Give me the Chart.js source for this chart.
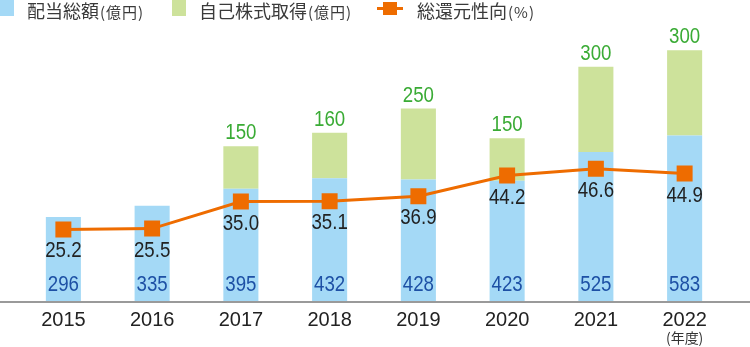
<!DOCTYPE html>
<html>
<head>
<meta charset="utf-8">
<script src="https://cdn.jsdelivr.net/npm/chart.js@4.4.0/dist/chart.umd.min.js"></script>
<style>
  body { margin: 0; background: #fff; }
  .wrap { position: relative; width: 750px; height: 347px; }
  #chart { position: absolute; left: 0; top: 0; }
  .legend { position: absolute; left: 0; top: 0; height: 18px; font-family: "Noto Sans CJK JP", sans-serif; color: #3a3a3a; }
  .item { position: absolute; top: 1px; white-space: nowrap; font-size: 18px; line-height: 18px; }
  .item small { font-size: 15px; letter-spacing: 1px; margin-left: 1px; }
  .sw { display: inline-block; width: 14px; height: 16px; vertical-align: top; margin-right: 13px; margin-top: -1px; }
  .ln { display: inline-block; position: relative; width: 26px; height: 16px; vertical-align: top; margin-right: 14px; margin-top: -1px; }
  .ln:before { content: ""; position: absolute; left: 0; right: 0; top: 7px; height: 3px; background: #ee6c00; }
  .ln:after { content: ""; position: absolute; left: 6px; top: 2px; width: 14px; height: 13px; background: #ee6c00; }
</style>
</head>
<body>
<div class="wrap">
  <canvas id="chart" width="750" height="347"></canvas>
  <div class="legend">
    <div class="item" style="left:0"><span class="sw" style="background:#a4d9f6"></span>配当総額<small>(億円)</small></div>
    <div class="item" style="left:172px"><span class="sw" style="background:#cde29b"></span>自己株式取得<small>(億円)</small></div>
    <div class="item" style="left:377px"><span class="ln"></span>総還元性向<small>(%)</small></div>
  </div>
</div>
<script>
const years = ['2015', '2016', '2017', '2018', '2019', '2020', '2021', '2022'];
const dividends = [296, 335, 395, 432, 428, 423, 525, 583];
const buybacks = [null, null, 150, 160, 250, 150, 300, 300];
const payoutRatio = [25.2, 25.5, 35.0, 35.1, 36.9, 44.2, 46.6, 44.9];

// 細めの数字(横方向に縮める)
function drawNarrow(ctx, text, x, y, color) {
    ctx.save();
    ctx.translate(x, y);
    ctx.scale(0.85, 1);
    ctx.fillStyle = color;
    ctx.fillText(text, 0, 0);
    ctx.restore();
}

// 数値ラベルと基線
const labelsPlugin = {
    id: 'labels',
    afterDatasetsDraw(chart) {
        const ctx = chart.ctx;
        const base = chart.chartArea.bottom;
        ctx.save();
        ctx.font = '22px "Liberation Sans", Arial, sans-serif';
        ctx.textAlign = 'center';
        ctx.textBaseline = 'middle';

        chart.getDatasetMeta(0).data.forEach((bar, i) => {
            drawNarrow(ctx, dividends[i], bar.x, base - 16, '#1d50a5');
        });
        chart.getDatasetMeta(1).data.forEach((bar, i) => {
            if (buybacks[i] == null) return;
            drawNarrow(ctx, buybacks[i], bar.x, bar.y - 13, '#3aab35');
        });
        chart.getDatasetMeta(2).data.forEach((pt, i) => {
            drawNarrow(ctx, payoutRatio[i].toFixed(1), pt.x, pt.y + 22, '#222');
        });

        // 基線
        ctx.strokeStyle = '#9a9a9a';
        ctx.lineWidth = 2;
        ctx.beginPath();
        ctx.moveTo(0, base + 1);
        ctx.lineTo(chart.width, base + 1);
        ctx.stroke();

        // (年度)
        const x = chart.scales.x.getPixelForValue(years.length - 1);
        ctx.font = '14px "Noto Sans CJK JP", sans-serif';
        ctx.fillStyle = '#333';
        ctx.fillText('(年度)', x, 338);
        ctx.restore();
    }
};

new Chart(document.getElementById('chart'), {
    type: 'bar',
    data: {
        labels: years,
        datasets: [{
            label: '配当総額(億円)',
            data: dividends,
            backgroundColor: '#a4d9f6',
            yAxisID: 'y',
            order: 2
        }, {
            label: '自己株式取得(億円)',
            data: buybacks,
            backgroundColor: '#cde29b',
            yAxisID: 'y',
            order: 2
        }, {
            type: 'line',
            label: '総還元性向(%)',
            data: payoutRatio,
            borderColor: '#ee6c00',
            borderWidth: 3,
            backgroundColor: '#ee6c00',
            pointStyle: 'rect',
            pointRadius: 11.3,
            pointBorderWidth: 0,
            pointBackgroundColor: '#ee6c00',
            tension: 0,
            yAxisID: 'y1',
            order: 1
        }]
    },
    options: {
        responsive: false,
        animation: false,
        layout: { padding: { left: 19, right: 21, top: 17, bottom: 0 } },
        datasets: {
            bar: { barPercentage: 0.395, categoryPercentage: 1 }
        },
        plugins: {
            legend: { display: false },
            tooltip: { enabled: false }
        },
        scales: {
            x: {
                stacked: true,
                grid: { display: false, drawTicks: false },
                border: { display: false },
                ticks: {
                    color: '#222',
                    font: { family: '"Liberation Sans", Arial, sans-serif', size: 20 },
                    padding: 7,
                    maxRotation: 0
                },
                afterFit(scale) { scale.height = 46; }
            },
            y: {
                stacked: true,
                display: false,
                min: 0,
                max: 1000
            },
            y1: {
                display: false,
                min: 0,
                max: 100
            }
        }
    },
    plugins: [labelsPlugin]
});
</script>
</body>
</html>
